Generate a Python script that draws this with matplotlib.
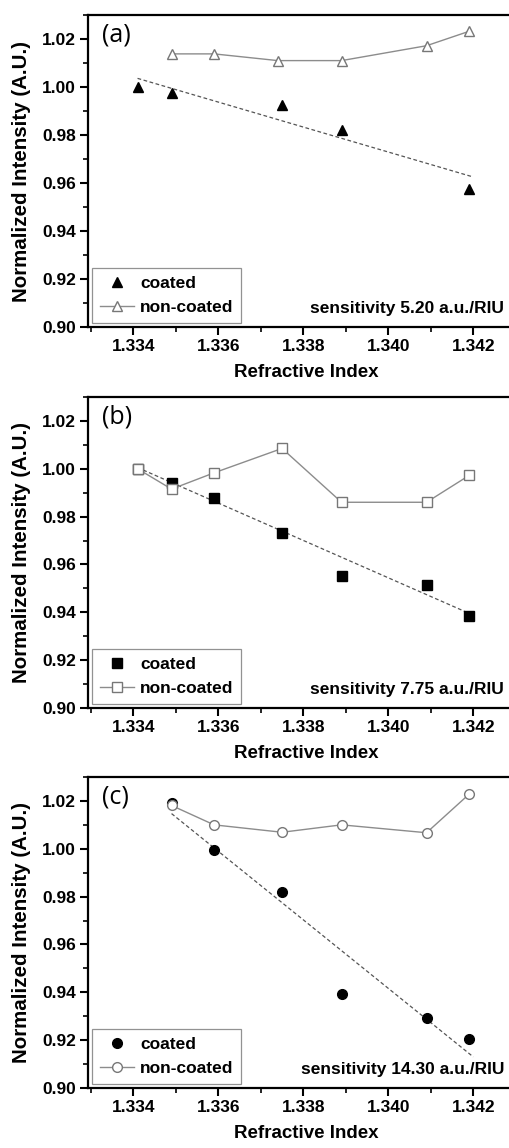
import numpy as np
import matplotlib
matplotlib.use("Agg")
import matplotlib.pyplot as plt
from matplotlib.ticker import MultipleLocator, FormatStrFormatter

plt.rcParams['font.family'] = ['Liberation Sans', 'DejaVu Sans']
plt.rcParams['font.weight'] = 'bold'

# --- DATA ---
# (a) triangles
a_coated_x = [1.3341, 1.3349, 1.3375, 1.3389, 1.3419]
a_coated_y = [1.0000, 0.9975, 0.9926, 0.9822, 0.9575]
a_non_x = [1.3349, 1.3359, 1.3374, 1.3389, 1.3409, 1.3419]
a_non_y = [1.0138, 1.0138, 1.0110, 1.0110, 1.0172, 1.0232]
a_fit_x = [1.3341, 1.3420]
a_fit_y = [1.0036, 0.9625]

# (b) squares
b_coated_x = [1.3341, 1.3349, 1.3359, 1.3375, 1.3389, 1.3409, 1.3419]
b_coated_y = [1.0000, 0.9939, 0.9879, 0.9733, 0.9553, 0.9513, 0.9383]
b_non_x = [1.3341, 1.3349, 1.3359, 1.3375, 1.3389, 1.3409, 1.3419]
b_non_y = [1.0000, 0.9915, 0.9983, 1.0085, 0.9860, 0.9860, 0.9972]
b_fit_x = [1.3341, 1.3420]
b_fit_y = [1.0005, 0.9388]

# (c) circles
c_coated_x = [1.3349, 1.3359, 1.3375, 1.3389, 1.3409, 1.3419]
c_coated_y = [1.0192, 0.9994, 0.9818, 0.9393, 0.9293, 0.9206]
c_non_x = [1.3349, 1.3359, 1.3375, 1.3389, 1.3409, 1.3419]
c_non_y = [1.0181, 1.0100, 1.0069, 1.0100, 1.0067, 1.0228]
c_fit_x = [1.3349, 1.3420]
c_fit_y = [1.0147, 0.9130]

panels = [
    ('(a)', '^', 7.5, a_coated_x, a_coated_y, a_non_x, a_non_y, a_fit_x, a_fit_y,
     'sensitivity 5.20 a.u./RIU'),
    ('(b)', 's', 6.5, b_coated_x, b_coated_y, b_non_x, b_non_y, b_fit_x, b_fit_y,
     'sensitivity 7.75 a.u./RIU'),
    ('(c)', 'o', 7.0, c_coated_x, c_coated_y, c_non_x, c_non_y, c_fit_x, c_fit_y,
     'sensitivity 14.30 a.u./RIU'),
]

W, H = 510, 1148
fig = plt.figure(figsize=(W / 100, H / 100), dpi=100)

# pixel boxes (top, bottom) for each panel
boxes = [(15, 327), (397, 708), (777, 1088)]
left_px, right_px = 87.7, 524.3
ax_w = right_px - left_px

for (tag, mk, ms, cx, cy, nx, ny, fx, fy, sens), (top, bot) in zip(panels, boxes):
    ax_h = bot - top
    ax = fig.add_axes([left_px / W, 1 - bot / H, ax_w / W, ax_h / H])
    ax.plot(fx, fy, linestyle='--', color='#555555', linewidth=0.9, dashes=(3, 2), zorder=2)
    ax.plot(cx, cy, linestyle='none', marker=mk, markersize=ms, color='black',
            label='coated', zorder=3)
    ax.plot(nx, ny, linestyle='-', color='#8c8c8c', linewidth=1.0, marker=mk,
            markersize=ms, markerfacecolor='white', markeredgecolor='#777777',
            markeredgewidth=1.0, label='non-coated', zorder=4)

    ax.set_xlim(1.332927, 1.3432)
    ax.set_ylim(0.90, 1.03)
    ax.xaxis.set_major_locator(MultipleLocator(0.002))
    ax.xaxis.set_minor_locator(MultipleLocator(0.001))
    ax.yaxis.set_major_locator(MultipleLocator(0.02))
    ax.yaxis.set_minor_locator(MultipleLocator(0.01))
    ax.xaxis.set_major_formatter(FormatStrFormatter('%.3f'))
    ax.yaxis.set_major_formatter(FormatStrFormatter('%.2f'))
    ax.tick_params(which='major', direction='out', length=6, width=1.5, labelsize=12.5, pad=2.5)
    ax.tick_params(which='minor', direction='out', length=3.5, width=1.2)
    for lab in ax.get_xticklabels() + ax.get_yticklabels():
        lab.set_fontweight('bold')
    for s in ax.spines.values():
        s.set_linewidth(1.6)

    ax.set_xlabel('Refractive Index', fontsize=13.5, fontweight='bold')
    ax.xaxis.set_label_coords(0.5, -37 / ax_h)
    ax.set_ylabel('Normalized Intensity (A.U.)', fontsize=14.8, fontweight='bold')
    ax.yaxis.set_label_coords(-57 / ax_w, 0.5)

    ax.text(14 / ax_w, 1 - 8 / ax_h, tag, transform=ax.transAxes, fontsize=18,
            fontweight='normal', family=['Open Sans', 'DejaVu Sans'], va='top', ha='left')
    ax.text((504 - left_px) / ax_w, 14 / ax_h, sens, transform=ax.transAxes,
            fontsize=12.5, fontweight='bold', ha='right', va='baseline')

    leg = ax.legend(loc='lower left', fontsize=12.5, frameon=True, fancybox=False,
                    bbox_to_anchor=(4 / ax_w, 4 / ax_h), borderaxespad=0,
                    handlelength=2.0, handletextpad=0.35,
                    borderpad=0.45, labelspacing=0.5)
    leg.get_frame().set_edgecolor('#777777')
    leg.get_frame().set_linewidth(0.9)
    for t in leg.get_texts():
        t.set_fontweight('bold')

fig.savefig('out.png', dpi=100)
